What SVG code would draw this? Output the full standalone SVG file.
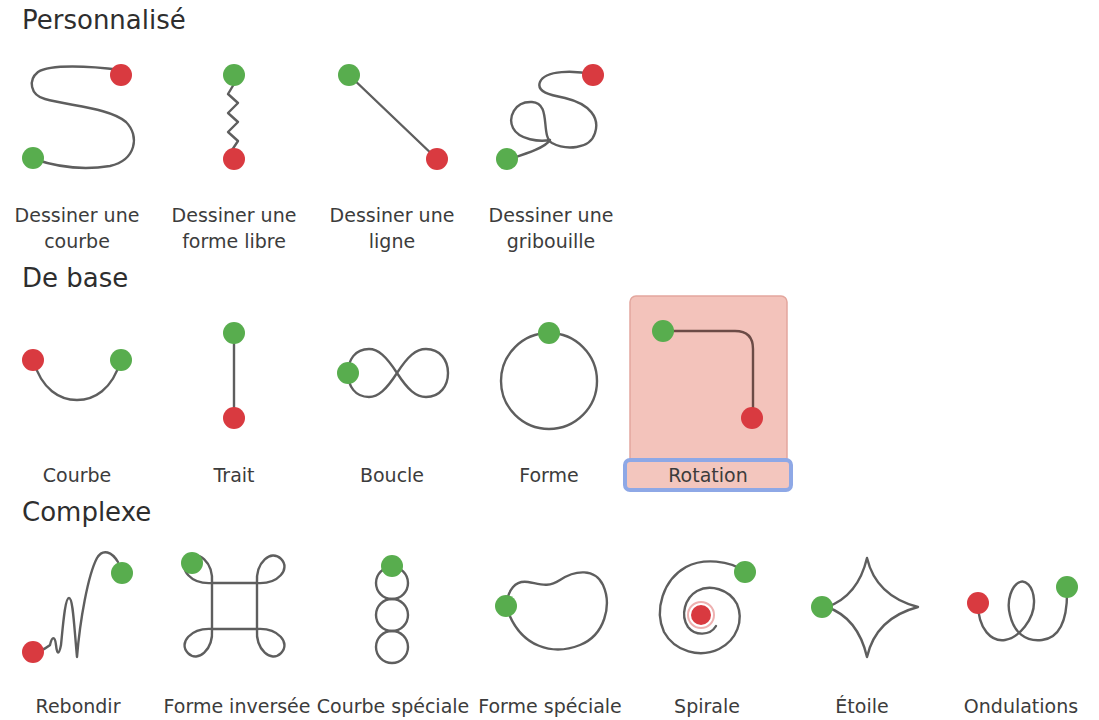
<svg xmlns="http://www.w3.org/2000/svg" width="1099" height="720" viewBox="0 0 1099 720">
<defs>
<style>
.hdr{font-family:"DejaVu Sans","Liberation Sans",sans-serif;font-size:26px;fill:#2e2e2e}
.lbl{font-family:"DejaVu Sans","Liberation Sans",sans-serif;font-size:19px;fill:#3c3c3c;text-anchor:middle}
.ln{fill:none;stroke:#5e5e5e;stroke-width:2.4;stroke-linecap:round;stroke-linejoin:round}
.g{fill:#58ad4e}
.r{fill:#d93a40}
</style>
<path id="tear" d="M0,0 C14,-16 34,-14 34,0 C34,14 14,16 0,0"/>
</defs>
<rect width="1099" height="720" fill="#fff"/>

<text class="hdr" x="22" y="29">Personnalisé</text>
<text class="hdr" x="22" y="287">De base</text>
<text class="hdr" x="22" y="521">Complexe</text>

<g id="connectors">
<!-- row 1 -->
<path class="ln" d="M121,70 C90,66 50,64 38,72 C28,80 30,95 45,99 C70,106 110,108 126,122 C140,136 136,160 110,166 C85,170 60,168 34,159"/>
<path class="ln" d="M234,84 L228,94 L238,103 L228,113 L238,122 L228,132 L238,141 L232,150"/>
<path class="ln" d="M349,75 L437,159"/>
<path class="ln" d="M593,75 C575,70 545,70 540,82 C536,92 550,95 565,98 C590,104 600,118 595,133 C590,150 565,150 552,143 C540,136 552,103 532,102 C514,101 508,118 513,128 C519,140 540,142 550,140 C545,148 525,154 507,160"/>
<!-- row 2 -->
<path class="ln" d="M33,360 C42,390 60,400 77,400 C94,400 112,390 121,360"/>
<path class="ln" d="M234,333 L234,418"/>
<path class="ln" d="M397,373 C408,356 416,349 426,349 C440,349 448,360 448,373 C448,386 440,397 426,397 C416,397 408,390 397,373 C386,356 378,349 369,349 C355,349 348,360 348,373 C348,386 355,397 369,397 C378,397 386,390 397,373 Z"/>
<circle class="ln" cx="549" cy="381" r="48"/>
<!-- row 3 -->
<path class="ln" d="M33,652 C42,652 46,648 50,645 C52,636 55,636 56,645 C57,655 59,655 61,645 C63,625 65,598 69,598 C73,598 74,625 77,657 C80,620 88,575 97,558 C103,548 112,552 118,562"/>
<rect class="ln" x="212" y="583" width="45" height="46"/>
<use class="ln" href="#tear" transform="translate(257,583) rotate(-45)"/>
<use class="ln" href="#tear" transform="translate(257,629) rotate(45)"/>
<use class="ln" href="#tear" transform="translate(212,629) rotate(135)"/>
<use class="ln" href="#tear" transform="translate(212,583) rotate(-135)"/>
<circle class="ln" cx="392" cy="583" r="16"/>
<circle class="ln" cx="392" cy="615" r="16"/>
<circle class="ln" cx="392" cy="647" r="16"/>
<path class="ln" d="M506,606 C508,590 515,580 528,582 C540,584 548,588 560,580 C575,570 595,568 603,585 C612,605 605,635 580,645 C555,655 520,650 506,606 Z"/>
<path class="ln" d="M745,572 C730,560 703,558 686,567 C663,580 654,610 664,632 C675,652 700,658 719,649 C737,640 744,620 737,604 C729,589 710,584 697,591 C685,598 680,615 688,627 C695,636 710,636 716,626"/>
<path class="ln" d="M827,607 Q858,596 867,558 Q876,596 918,607 Q876,618 867,657 Q858,618 827,607 Z"/>
<path class="ln" d="M978,603 C978,630 992,642 1005,640 C1018,638 1035,620 1034,600 C1033,585 1025,580 1020,582 C1012,585 1006,600 1010,615 C1014,632 1025,642 1042,640 C1060,638 1068,620 1067,587"/>
</g>

<g id="courbe-perso">
<circle class="r" cx="121" cy="75" r="11"/>
<circle class="g" cx="33" cy="158" r="11"/>
<text class="lbl" x="77" y="222">Dessiner une</text>
<text class="lbl" x="77" y="248">courbe</text>
</g>
<g id="forme-libre">
<circle class="g" cx="234" cy="75" r="11"/>
<circle class="r" cx="234" cy="159" r="11"/>
<text class="lbl" x="234" y="222">Dessiner une</text>
<text class="lbl" x="234" y="248">forme libre</text>
</g>
<g id="ligne">
<circle class="g" cx="349" cy="75" r="11"/>
<circle class="r" cx="437" cy="159" r="11"/>
<text class="lbl" x="392" y="222">Dessiner une</text>
<text class="lbl" x="392" y="248">ligne</text>
</g>
<g id="gribouille">
<circle class="r" cx="593" cy="75" r="11"/>
<circle class="g" cx="507" cy="159" r="11"/>
<text class="lbl" x="551" y="222">Dessiner une</text>
<text class="lbl" x="551" y="248">gribouille</text>
</g>

<g id="courbe">
<circle class="r" cx="33" cy="360" r="11"/>
<circle class="g" cx="121" cy="360" r="11"/>
<text class="lbl" x="77" y="482">Courbe</text>
</g>
<g id="trait">
<circle class="g" cx="234" cy="333" r="11"/>
<circle class="r" cx="234" cy="418" r="11"/>
<text class="lbl" x="234" y="482">Trait</text>
</g>
<g id="boucle">
<circle class="g" cx="348" cy="373" r="11"/>
<text class="lbl" x="392" y="482">Boucle</text>
</g>
<g id="forme">
<circle class="g" cx="549" cy="333" r="11"/>
<text class="lbl" x="549" y="482">Forme</text>
</g>
<g id="rotation">
<rect x="630" y="296" width="157" height="194" rx="6" fill="#f3c3bb" stroke="#e3a79e" stroke-width="1.5"/>
<rect x="625" y="460" width="166" height="30" rx="5" fill="#f3c6be" stroke="#8ea8e6" stroke-width="4"/>
<path d="M663,331 L735,331 Q753,331 753,349 L753,418" fill="none" stroke="#6b4b46" stroke-width="2.4"/>
<circle class="g" cx="663" cy="331" r="11"/>
<circle class="r" cx="752" cy="418" r="11"/>
<text class="lbl" x="708" y="482">Rotation</text>
</g>

<g id="rebondir">
<circle class="r" cx="33" cy="652" r="11"/>
<circle class="g" cx="122" cy="573" r="11"/>
<text class="lbl" x="78" y="713">Rebondir</text>
</g>
<g id="forme-inversee">
<circle class="g" cx="192" cy="563" r="11"/>
<text class="lbl" x="237" y="713">Forme inversée</text>
</g>
<g id="courbe-speciale">
<circle class="g" cx="392" cy="566" r="11"/>
<text class="lbl" x="393" y="713">Courbe spéciale</text>
</g>
<g id="forme-speciale">
<circle class="g" cx="506" cy="606" r="11"/>
<text class="lbl" x="550" y="713">Forme spéciale</text>
</g>
<g id="spirale">
<circle cx="701" cy="615" r="13" fill="#fff" stroke="#eeb0b0" stroke-width="2"/>
<circle class="r" cx="701" cy="615" r="10"/>
<circle class="g" cx="745" cy="572" r="11"/>
<text class="lbl" x="707" y="713">Spirale</text>
</g>
<g id="etoile">
<circle class="g" cx="822" cy="607" r="11"/>
<text class="lbl" x="862" y="713">Étoile</text>
</g>
<g id="ondulations">
<circle class="r" cx="978" cy="603" r="11"/>
<circle class="g" cx="1067" cy="587" r="11"/>
<text class="lbl" x="1021" y="713">Ondulations</text>
</g>
</svg>
